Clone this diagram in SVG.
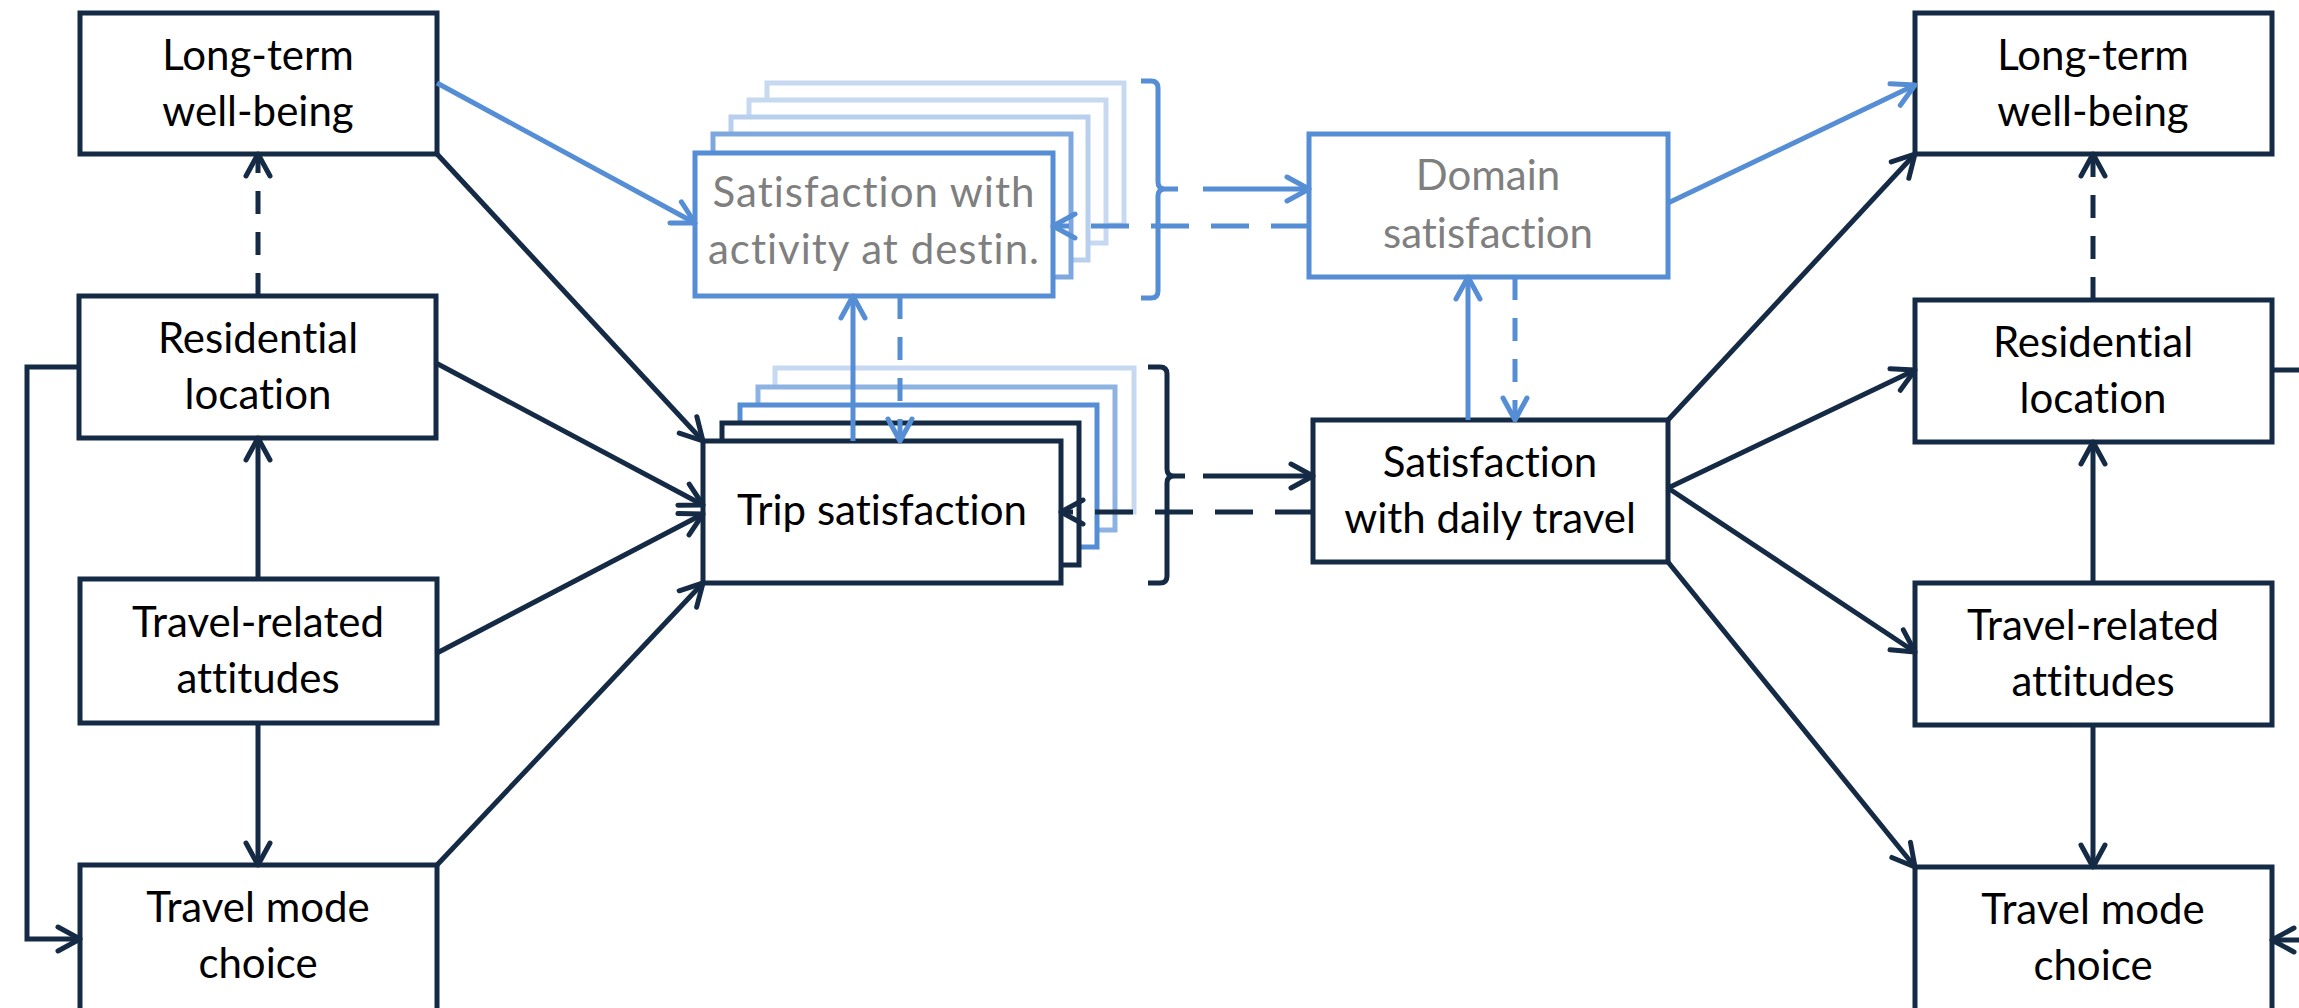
<svg xmlns="http://www.w3.org/2000/svg" width="2299" height="1008" viewBox="0 0 2299 1008">
<style>
.bx{fill:#fff;stroke:#142A45;stroke-width:5}
.bb{fill:#fff;stroke:#558ED5;stroke-width:5}
.t{font-family:Lato,"Liberation Sans",sans-serif;font-size:42px;fill:#000;text-anchor:middle;font-variant-ligatures:none}
.g{fill:#7F7F7F}
.cd{fill:none;stroke:#142A45;stroke-width:5}
.cb{fill:none;stroke:#558ED5;stroke-width:5}
.ds{stroke-dasharray:23 18}
.dh{stroke-dasharray:38 22}
</style>
<defs>
<marker id="ad" viewBox="-30 -17 36 34" refX="0" refY="0" markerWidth="36" markerHeight="34" orient="auto" markerUnits="userSpaceOnUse">
<path d="M-22,-12 L0,0 L-22,12" fill="none" stroke="#142A45" stroke-width="5" stroke-linecap="round" stroke-linejoin="round"/>
</marker>
<marker id="ab" viewBox="-30 -17 36 34" refX="0" refY="0" markerWidth="36" markerHeight="34" orient="auto" markerUnits="userSpaceOnUse">
<path d="M-22,-12 L0,0 L-22,12" fill="none" stroke="#558ED5" stroke-width="5" stroke-linecap="round" stroke-linejoin="round"/>
</marker>
</defs>

<g id="lt-left"><rect class="bx" x="80" y="13" width="357" height="141"/><text class="t" x="258" y="70">Long-term</text><text class="t" x="258" y="126">well-being</text></g>
<g id="res-left"><rect class="bx" x="79" y="296" width="357" height="142"/><text class="t" x="258" y="353">Residential</text><text class="t" x="258" y="409">location</text></g>
<g id="att-left"><rect class="bx" x="80" y="579" width="357" height="144"/><text class="t" x="258" y="637">Travel-related</text><text class="t" x="258" y="693">attitudes</text></g>
<g id="mode-left"><rect class="bx" x="80" y="865" width="357" height="160"/><text class="t" x="258" y="922">Travel mode</text><text class="t" x="258" y="978">choice</text></g>

<g id="activity">
<rect fill="#fff" stroke="#C6D9F1" stroke-width="5" x="767" y="83" width="357" height="142"/>
<rect fill="#fff" stroke="#C6D9F1" stroke-width="5" x="749" y="100" width="357" height="143"/>
<rect fill="#fff" stroke="#B9CFEE" stroke-width="5" x="731" y="117" width="357" height="143"/>
<rect fill="#fff" stroke="#7DA7DE" stroke-width="5" x="713" y="134" width="358" height="143"/>
<rect class="bb" x="695" y="153" width="358" height="143"/>
<text class="t g" x="874" y="207" letter-spacing="1">Satisfaction with</text><text class="t g" x="874" y="264" letter-spacing="1">activity at destin.</text>
</g>

<g id="trip">
<rect fill="#fff" stroke="#C6D9F1" stroke-width="5" x="775" y="368" width="359" height="144"/>
<rect fill="#fff" stroke="#8DB3E2" stroke-width="5" x="758" y="387" width="357" height="143"/>
<rect fill="#fff" stroke="#558ED5" stroke-width="5" x="740" y="405" width="357" height="142"/>
<rect class="bx" x="722" y="423" width="357" height="142"/>
<rect class="bx" x="703" y="441" width="358" height="142"/>
<text class="t" x="882" y="525">Trip satisfaction</text>
</g>

<g id="domain"><rect class="bb" x="1309" y="134" width="359" height="143"/><text class="t g" x="1488" y="190">Domain</text><text class="t g" x="1488" y="248">satisfaction</text></g>
<g id="daily"><rect class="bx" x="1313" y="420" width="355" height="142"/><text class="t" x="1490" y="477">Satisfaction</text><text class="t" x="1490" y="533">with daily travel</text></g>

<g id="lt-right"><rect class="bx" x="1915" y="13" width="357" height="141"/><text class="t" x="2093" y="70">Long-term</text><text class="t" x="2093" y="126">well-being</text></g>
<g id="res-right"><rect class="bx" x="1915" y="300" width="357" height="142"/><text class="t" x="2093" y="357">Residential</text><text class="t" x="2093" y="413">location</text></g>
<g id="att-right"><rect class="bx" x="1915" y="583" width="357" height="142"/><text class="t" x="2093" y="640">Travel-related</text><text class="t" x="2093" y="696">attitudes</text></g>
<g id="mode-right"><rect class="bx" x="1915" y="867" width="357" height="160"/><text class="t" x="2093" y="924">Travel mode</text><text class="t" x="2093" y="980">choice</text></g>

<g id="connectors">
<path class="cd" d="M437,154 L703,441" marker-end="url(#ad)"/>
<path class="cd" d="M436,363 L703,505" marker-end="url(#ad)"/>
<path class="cd" d="M437,653 L703,514" marker-end="url(#ad)"/>
<path class="cd" d="M437,865 L703,583" marker-end="url(#ad)"/>
<path class="cd" d="M258,579 L258,438" marker-end="url(#ad)"/>
<path class="cd" d="M258,723 L258,865" marker-end="url(#ad)"/>
<path class="cd" d="M79,367 H27 V939 H80" marker-end="url(#ad)"/>
<path class="cd ds" d="M258,296 L258,154" marker-end="url(#ad)"/>
<path class="cd" d="M1203,476 L1313,476" marker-end="url(#ad)"/>
<path class="cd dh" d="M1313,512 L1061,512" marker-end="url(#ad)"/>
<path class="cd" d="M1148,367 H1160 Q1167,367 1167,374 V469 Q1167,476 1174,476 H1185 M1174,476 Q1167,476 1167,483 V576 Q1167,583 1160,583 H1148"/>
<path class="cd" d="M1668,420 L1915,154" marker-end="url(#ad)"/>
<path class="cd" d="M1668,488 L1915,370" marker-end="url(#ad)"/>
<path class="cd" d="M1668,488 L1915,652" marker-end="url(#ad)"/>
<path class="cd" d="M1668,562 L1915,867" marker-end="url(#ad)"/>
<path class="cd" d="M2093,583 L2093,442" marker-end="url(#ad)"/>
<path class="cd" d="M2093,725 L2093,867" marker-end="url(#ad)"/>
<path class="cd ds" d="M2093,300 L2093,154" marker-end="url(#ad)"/>
<path class="cd" d="M2272,370 H2325 V940 H2272" marker-end="url(#ad)"/>
<path class="cb" d="M437,83 L695,223" marker-end="url(#ab)"/>
<path class="cb" d="M853,441 L853,296" marker-end="url(#ab)"/>
<path class="cb ds" d="M900,296 L900,441" marker-end="url(#ab)"/>
<path class="cb" d="M1203,189 L1309,189" marker-end="url(#ab)"/>
<path class="cb dh" d="M1309,226 L1053,226" marker-end="url(#ab)"/>
<path class="cb" d="M1141,81 H1151 Q1158,81 1158,88 V182 Q1158,189 1165,189 H1178 M1165,189 Q1158,189 1158,196 V291 Q1158,298 1151,298 H1141"/>
<path class="cb" d="M1468,420 L1468,277" marker-end="url(#ab)"/>
<path class="cb ds" d="M1515,277 L1515,420" marker-end="url(#ab)"/>
<path class="cb" d="M1668,203 L1915,85" marker-end="url(#ab)"/>
</g>
</svg>
